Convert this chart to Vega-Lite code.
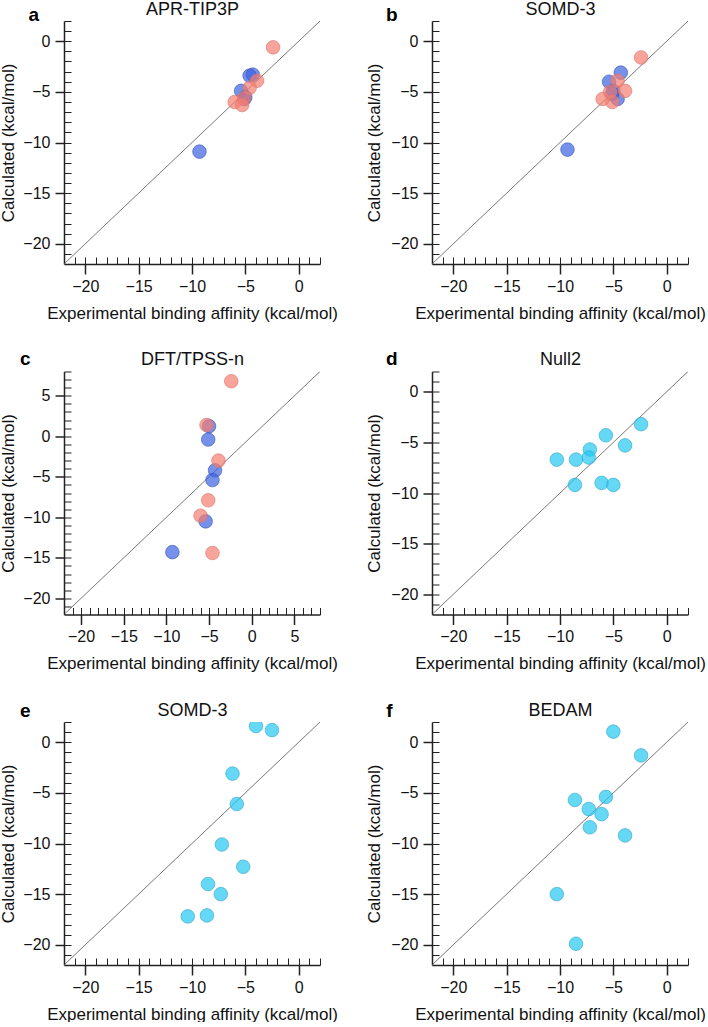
{
"$schema":"https://vega.github.io/schema/vega-lite/v6.json",
"padding":{"left":-1,"top":0,"right":0,"bottom":0},
"config":{"font":"Liberation Sans","view":{"stroke":null},
 "axis":{"grid":false,"domainColor":"#222222","tickColor":"#222222","labelColor":"#111111","titleColor":"#111111","labelFontSize":16,"titleFontSize":17,"titleFontWeight":"normal","labelFont":"Liberation Sans","titleFont":"Liberation Sans"}},
"datasets":{
 "diag":[{"x":-22,"y":-22},{"x":2,"y":2}],
 "diagc":[{"x":-22,"y":-22},{"x":8,"y":8}],
 "pts":[
  {"panel":"a","host":"H1","x":-9.3,"y":-10.9},{"panel":"a","host":"H1","x":-4.3,"y":-3.3},{"panel":"a","host":"H1","x":-4.6,"y":-3.4},{"panel":"a","host":"H1","x":-5.4,"y":-4.9},{"panel":"a","host":"H1","x":-5.0,"y":-5.5},{"panel":"a","host":"H1","x":-5.1,"y":-5.7},
  {"panel":"a","host":"H2","x":-2.4,"y":-0.6},{"panel":"a","host":"H2","x":-3.9,"y":-3.9},{"panel":"a","host":"H2","x":-4.6,"y":-4.6},{"panel":"a","host":"H2","x":-5.1,"y":-5.6},{"panel":"a","host":"H2","x":-6.0,"y":-6.0},{"panel":"a","host":"H2","x":-5.3,"y":-6.3},
  {"panel":"b","host":"H1","x":-9.3,"y":-10.7},{"panel":"b","host":"H1","x":-4.3,"y":-3.1},{"panel":"b","host":"H1","x":-5.4,"y":-4.0},{"panel":"b","host":"H1","x":-5.0,"y":-4.9},{"panel":"b","host":"H1","x":-4.6,"y":-5.7},{"panel":"b","host":"H1","x":-5.1,"y":-5.2},
  {"panel":"b","host":"H2","x":-2.4,"y":-1.6},{"panel":"b","host":"H2","x":-3.9,"y":-4.9},{"panel":"b","host":"H2","x":-4.6,"y":-3.9},{"panel":"b","host":"H2","x":-5.1,"y":-6.0},{"panel":"b","host":"H2","x":-6.0,"y":-5.7},{"panel":"b","host":"H2","x":-5.3,"y":-5.0},
  {"panel":"c","host":"H1","x":-5.0,"y":1.25},{"panel":"c","host":"H1","x":-5.1,"y":-0.4},{"panel":"c","host":"H1","x":-4.3,"y":-4.2},{"panel":"c","host":"H1","x":-4.6,"y":-5.4},{"panel":"c","host":"H1","x":-5.4,"y":-10.5},{"panel":"c","host":"H1","x":-9.3,"y":-14.3},
  {"panel":"c","host":"H2","x":-2.4,"y":6.8},{"panel":"c","host":"H2","x":-5.3,"y":1.4},{"panel":"c","host":"H2","x":-3.9,"y":-3.0},{"panel":"c","host":"H2","x":-5.1,"y":-7.9},{"panel":"c","host":"H2","x":-6.0,"y":-9.8},{"panel":"c","host":"H2","x":-4.6,"y":-14.4},
  {"panel":"d","host":"G","x":-2.4,"y":-3.2},{"panel":"d","host":"G","x":-5.7,"y":-4.3},{"panel":"d","host":"G","x":-3.9,"y":-5.3},{"panel":"d","host":"G","x":-7.2,"y":-5.7},{"panel":"d","host":"G","x":-7.3,"y":-6.5},{"panel":"d","host":"G","x":-8.5,"y":-6.7},{"panel":"d","host":"G","x":-10.3,"y":-6.7},{"panel":"d","host":"G","x":-8.6,"y":-9.2},{"panel":"d","host":"G","x":-6.1,"y":-9.0},{"panel":"d","host":"G","x":-5.0,"y":-9.2},
  {"panel":"e","host":"G","x":-4.0,"y":1.6},{"panel":"e","host":"G","x":-2.5,"y":1.2},{"panel":"e","host":"G","x":-6.2,"y":-3.1},{"panel":"e","host":"G","x":-5.8,"y":-6.1},{"panel":"e","host":"G","x":-7.2,"y":-10.1},{"panel":"e","host":"G","x":-5.2,"y":-12.3},{"panel":"e","host":"G","x":-8.5,"y":-14.0},{"panel":"e","host":"G","x":-7.3,"y":-15.0},{"panel":"e","host":"G","x":-10.4,"y":-17.2},{"panel":"e","host":"G","x":-8.6,"y":-17.1},
  {"panel":"f","host":"G","x":-5.0,"y":1.05},{"panel":"f","host":"G","x":-2.4,"y":-1.3},{"panel":"f","host":"G","x":-5.7,"y":-5.4},{"panel":"f","host":"G","x":-8.6,"y":-5.7},{"panel":"f","host":"G","x":-7.3,"y":-6.6},{"panel":"f","host":"G","x":-6.1,"y":-7.1},{"panel":"f","host":"G","x":-7.2,"y":-8.4},{"panel":"f","host":"G","x":-3.9,"y":-9.2},{"panel":"f","host":"G","x":-10.3,"y":-15.0},{"panel":"f","host":"G","x":-8.5,"y":-19.9}
 ]},
"columns":2,
"spacing":{"row":107.5,"column":112},
"bounds":"flush",
"concat":[
 {"width":256,"height":243,
  "layer":[
   {"data":{"name":"diag"},"mark":{"type":"line","color":"#555555","strokeWidth":0.8,"clip":true},
    "encoding":{
     "x":{"field":"x","type":"quantitative","scale":{"domain":[-22,2],"nice":false,"zero":false},"axis":{"orient":"bottom","values":[-21,-20,-19,-18,-17,-16,-15,-14,-13,-12,-11,-10,-9,-8,-7,-6,-5,-4,-3,-2,-1,0,1,2],"tickSize":-7,"tickWidth":1,"domain":false,"labels":false,"title":"APR-TIP3P","titleX":128,"titleY":-250,"titleAngle":0,"titleAlign":"center","titleBaseline":"alphabetic","titleFontSize":18}},
     "y":{"field":"y","type":"quantitative","scale":{"domain":[-22,2],"nice":false,"zero":false},"axis":{"orient":"left","values":[-21,-20,-19,-18,-17,-16,-15,-14,-13,-12,-11,-10,-9,-8,-7,-6,-5,-4,-3,-2,-1,0,1,2],"tickSize":-7,"tickWidth":1,"domain":false,"labels":false,"title":"a","titleX":-25.5,"titleY":-0.5,"titleAngle":0,"titleAlign":"right","titleBaseline":"alphabetic","titleFontSize":19,"titleFontWeight":"bold","titleColor":"#000000"}}}},
   {"data":{"name":"pts"},"transform":[{"filter":"datum.panel == 'a'"}],
    "mark":{"type":"circle","size":185,"opacity":1,"fillOpacity":0.7,"strokeOpacity":0.8,"strokeWidth":0.8,"clip":true},
    "encoding":{
     "x":{"field":"x","type":"quantitative","axis":{"orient":"bottom","values":[-20,-15,-10,-5,0],"tickSize":10,"tickWidth":1.5,"domainWidth":1.5,"labelPadding":4,"title":"Experimental binding affinity (kcal/mol)","titleX":128,"titleY":54,"titleAlign":"center","titleBaseline":"alphabetic"}},
     "y":{"field":"y","type":"quantitative","axis":{"orient":"left","values":[-20,-15,-10,-5,0],"tickSize":9,"tickWidth":1.5,"domainWidth":1.5,"labelPadding":5,"title":"Calculated (kcal/mol)","titleX":-51,"titleY":121.5,"titleAngle":270,"titleAlign":"center","titleBaseline":"alphabetic"}},
     "color":{"field":"host","type":"nominal","scale":{"domain":["H1","H2","G"],"range":["#3a62e0","#f57e70","#22c7ef"]},"legend":null},
     "stroke":{"field":"host","type":"nominal","scale":{"domain":["H1","H2","G"],"range":["#3a58b8","#d8786c","#35a8cc"]},"legend":null}}}
  ],
  "resolve":{"axis":{"x":"independent","y":"independent"}}},
 {"width":256,"height":243,
  "layer":[
   {"data":{"name":"diag"},"mark":{"type":"line","color":"#555555","strokeWidth":0.8,"clip":true},
    "encoding":{
     "x":{"field":"x","type":"quantitative","scale":{"domain":[-22,2],"nice":false,"zero":false},"axis":{"orient":"bottom","values":[-21,-20,-19,-18,-17,-16,-15,-14,-13,-12,-11,-10,-9,-8,-7,-6,-5,-4,-3,-2,-1,0,1,2],"tickSize":-7,"tickWidth":1,"domain":false,"labels":false,"title":"SOMD-3","titleX":128,"titleY":-250,"titleAngle":0,"titleAlign":"center","titleBaseline":"alphabetic","titleFontSize":18}},
     "y":{"field":"y","type":"quantitative","scale":{"domain":[-22,2],"nice":false,"zero":false},"axis":{"orient":"left","values":[-21,-20,-19,-18,-17,-16,-15,-14,-13,-12,-11,-10,-9,-8,-7,-6,-5,-4,-3,-2,-1,0,1,2],"tickSize":-7,"tickWidth":1,"domain":false,"labels":false,"title":"b","titleX":-35,"titleY":-0.5,"titleAngle":0,"titleAlign":"right","titleBaseline":"alphabetic","titleFontSize":19,"titleFontWeight":"bold","titleColor":"#000000"}}}},
   {"data":{"name":"pts"},"transform":[{"filter":"datum.panel == 'b'"}],
    "mark":{"type":"circle","size":185,"opacity":1,"fillOpacity":0.7,"strokeOpacity":0.8,"strokeWidth":0.8,"clip":true},
    "encoding":{
     "x":{"field":"x","type":"quantitative","axis":{"orient":"bottom","values":[-20,-15,-10,-5,0],"tickSize":10,"tickWidth":1.5,"domainWidth":1.5,"labelPadding":4,"title":"Experimental binding affinity (kcal/mol)","titleX":128,"titleY":54,"titleAlign":"center","titleBaseline":"alphabetic"}},
     "y":{"field":"y","type":"quantitative","axis":{"orient":"left","values":[-20,-15,-10,-5,0],"tickSize":9,"tickWidth":1.5,"domainWidth":1.5,"labelPadding":5,"title":"Calculated (kcal/mol)","titleX":-53,"titleY":121.5,"titleAngle":270,"titleAlign":"center","titleBaseline":"alphabetic"}},
     "color":{"field":"host","type":"nominal","scale":{"domain":["H1","H2","G"],"range":["#3a62e0","#f57e70","#22c7ef"]},"legend":null},
     "stroke":{"field":"host","type":"nominal","scale":{"domain":["H1","H2","G"],"range":["#3a58b8","#d8786c","#35a8cc"]},"legend":null}}}
  ],
  "resolve":{"axis":{"x":"independent","y":"independent"}}},
 {"width":256,"height":243,
  "layer":[
   {"data":{"name":"diagc"},"mark":{"type":"line","color":"#555555","strokeWidth":0.8,"clip":true},
    "encoding":{
     "x":{"field":"x","type":"quantitative","scale":{"domain":[-22,8],"nice":false,"zero":false},"axis":{"orient":"bottom","values":[-21,-20,-19,-18,-17,-16,-15,-14,-13,-12,-11,-10,-9,-8,-7,-6,-5,-4,-3,-2,-1,0,1,2,3,4,5,6,7,8],"tickSize":-7,"tickWidth":1,"domain":false,"labels":false,"title":"DFT/TPSS-n","titleX":128,"titleY":-250,"titleAngle":0,"titleAlign":"center","titleBaseline":"alphabetic","titleFontSize":18}},
     "y":{"field":"y","type":"quantitative","scale":{"domain":[-22,8],"nice":false,"zero":false},"axis":{"orient":"left","values":[-21,-20,-19,-18,-17,-16,-15,-14,-13,-12,-11,-10,-9,-8,-7,-6,-5,-4,-3,-2,-1,0,1,2,3,4,5,6,7,8],"tickSize":-7,"tickWidth":1,"domain":false,"labels":false,"title":"c","titleX":-34,"titleY":-7,"titleAngle":0,"titleAlign":"right","titleBaseline":"alphabetic","titleFontSize":19,"titleFontWeight":"bold","titleColor":"#000000"}}}},
   {"data":{"name":"pts"},"transform":[{"filter":"datum.panel == 'c'"}],
    "mark":{"type":"circle","size":185,"opacity":1,"fillOpacity":0.7,"strokeOpacity":0.8,"strokeWidth":0.8,"clip":true},
    "encoding":{
     "x":{"field":"x","type":"quantitative","axis":{"orient":"bottom","values":[-20,-15,-10,-5,0,5],"tickSize":10,"tickWidth":1.5,"domainWidth":1.5,"labelPadding":4,"title":"Experimental binding affinity (kcal/mol)","titleX":128,"titleY":54,"titleAlign":"center","titleBaseline":"alphabetic"}},
     "y":{"field":"y","type":"quantitative","axis":{"orient":"left","values":[-20,-15,-10,-5,0,5],"tickSize":9,"tickWidth":1.5,"domainWidth":1.5,"labelPadding":5,"title":"Calculated (kcal/mol)","titleX":-51,"titleY":121.5,"titleAngle":270,"titleAlign":"center","titleBaseline":"alphabetic"}},
     "color":{"field":"host","type":"nominal","scale":{"domain":["H1","H2","G"],"range":["#3a62e0","#f57e70","#22c7ef"]},"legend":null},
     "stroke":{"field":"host","type":"nominal","scale":{"domain":["H1","H2","G"],"range":["#3a58b8","#d8786c","#35a8cc"]},"legend":null}}}
  ],
  "resolve":{"axis":{"x":"independent","y":"independent"}}},
 {"width":256,"height":243,
  "layer":[
   {"data":{"name":"diag"},"mark":{"type":"line","color":"#555555","strokeWidth":0.8,"clip":true},
    "encoding":{
     "x":{"field":"x","type":"quantitative","scale":{"domain":[-22,2],"nice":false,"zero":false},"axis":{"orient":"bottom","values":[-21,-20,-19,-18,-17,-16,-15,-14,-13,-12,-11,-10,-9,-8,-7,-6,-5,-4,-3,-2,-1,0,1,2],"tickSize":-7,"tickWidth":1,"domain":false,"labels":false,"title":"Null2","titleX":128,"titleY":-250,"titleAngle":0,"titleAlign":"center","titleBaseline":"alphabetic","titleFontSize":18}},
     "y":{"field":"y","type":"quantitative","scale":{"domain":[-22,2],"nice":false,"zero":false},"axis":{"orient":"left","values":[-21,-20,-19,-18,-17,-16,-15,-14,-13,-12,-11,-10,-9,-8,-7,-6,-5,-4,-3,-2,-1,0,1,2],"tickSize":-7,"tickWidth":1,"domain":false,"labels":false,"title":"d","titleX":-35,"titleY":-7,"titleAngle":0,"titleAlign":"right","titleBaseline":"alphabetic","titleFontSize":19,"titleFontWeight":"bold","titleColor":"#000000"}}}},
   {"data":{"name":"pts"},"transform":[{"filter":"datum.panel == 'd'"}],
    "mark":{"type":"circle","size":185,"opacity":1,"fillOpacity":0.7,"strokeOpacity":0.8,"strokeWidth":0.8,"clip":true},
    "encoding":{
     "x":{"field":"x","type":"quantitative","axis":{"orient":"bottom","values":[-20,-15,-10,-5,0],"tickSize":10,"tickWidth":1.5,"domainWidth":1.5,"labelPadding":4,"title":"Experimental binding affinity (kcal/mol)","titleX":128,"titleY":54,"titleAlign":"center","titleBaseline":"alphabetic"}},
     "y":{"field":"y","type":"quantitative","axis":{"orient":"left","values":[-20,-15,-10,-5,0],"tickSize":9,"tickWidth":1.5,"domainWidth":1.5,"labelPadding":5,"title":"Calculated (kcal/mol)","titleX":-53,"titleY":121.5,"titleAngle":270,"titleAlign":"center","titleBaseline":"alphabetic"}},
     "color":{"field":"host","type":"nominal","scale":{"domain":["H1","H2","G"],"range":["#3a62e0","#f57e70","#22c7ef"]},"legend":null},
     "stroke":{"field":"host","type":"nominal","scale":{"domain":["H1","H2","G"],"range":["#3a58b8","#d8786c","#35a8cc"]},"legend":null}}}
  ],
  "resolve":{"axis":{"x":"independent","y":"independent"}}},
 {"width":256,"height":243,
  "layer":[
   {"data":{"name":"diag"},"mark":{"type":"line","color":"#555555","strokeWidth":0.8,"clip":true},
    "encoding":{
     "x":{"field":"x","type":"quantitative","scale":{"domain":[-22,2],"nice":false,"zero":false},"axis":{"orient":"bottom","values":[-21,-20,-19,-18,-17,-16,-15,-14,-13,-12,-11,-10,-9,-8,-7,-6,-5,-4,-3,-2,-1,0,1,2],"tickSize":-7,"tickWidth":1,"domain":false,"labels":false,"title":"SOMD-3","titleX":128,"titleY":-250,"titleAngle":0,"titleAlign":"center","titleBaseline":"alphabetic","titleFontSize":18}},
     "y":{"field":"y","type":"quantitative","scale":{"domain":[-22,2],"nice":false,"zero":false},"axis":{"orient":"left","values":[-21,-20,-19,-18,-17,-16,-15,-14,-13,-12,-11,-10,-9,-8,-7,-6,-5,-4,-3,-2,-1,0,1,2],"tickSize":-7,"tickWidth":1,"domain":false,"labels":false,"title":"e","titleX":-34,"titleY":-6,"titleAngle":0,"titleAlign":"right","titleBaseline":"alphabetic","titleFontSize":19,"titleFontWeight":"bold","titleColor":"#000000"}}}},
   {"data":{"name":"pts"},"transform":[{"filter":"datum.panel == 'e'"}],
    "mark":{"type":"circle","size":185,"opacity":1,"fillOpacity":0.7,"strokeOpacity":0.8,"strokeWidth":0.8,"clip":true},
    "encoding":{
     "x":{"field":"x","type":"quantitative","axis":{"orient":"bottom","values":[-20,-15,-10,-5,0],"tickSize":10,"tickWidth":1.5,"domainWidth":1.5,"labelPadding":4,"title":"Experimental binding affinity (kcal/mol)","titleX":128,"titleY":54,"titleAlign":"center","titleBaseline":"alphabetic"}},
     "y":{"field":"y","type":"quantitative","axis":{"orient":"left","values":[-20,-15,-10,-5,0],"tickSize":9,"tickWidth":1.5,"domainWidth":1.5,"labelPadding":5,"title":"Calculated (kcal/mol)","titleX":-51,"titleY":121.5,"titleAngle":270,"titleAlign":"center","titleBaseline":"alphabetic"}},
     "color":{"field":"host","type":"nominal","scale":{"domain":["H1","H2","G"],"range":["#3a62e0","#f57e70","#22c7ef"]},"legend":null},
     "stroke":{"field":"host","type":"nominal","scale":{"domain":["H1","H2","G"],"range":["#3a58b8","#d8786c","#35a8cc"]},"legend":null}}}
  ],
  "resolve":{"axis":{"x":"independent","y":"independent"}}},
 {"width":256,"height":243,
  "layer":[
   {"data":{"name":"diag"},"mark":{"type":"line","color":"#555555","strokeWidth":0.8,"clip":true},
    "encoding":{
     "x":{"field":"x","type":"quantitative","scale":{"domain":[-22,2],"nice":false,"zero":false},"axis":{"orient":"bottom","values":[-21,-20,-19,-18,-17,-16,-15,-14,-13,-12,-11,-10,-9,-8,-7,-6,-5,-4,-3,-2,-1,0,1,2],"tickSize":-7,"tickWidth":1,"domain":false,"labels":false,"title":"BEDAM","titleX":128,"titleY":-250,"titleAngle":0,"titleAlign":"center","titleBaseline":"alphabetic","titleFontSize":18}},
     "y":{"field":"y","type":"quantitative","scale":{"domain":[-22,2],"nice":false,"zero":false},"axis":{"orient":"left","values":[-21,-20,-19,-18,-17,-16,-15,-14,-13,-12,-11,-10,-9,-8,-7,-6,-5,-4,-3,-2,-1,0,1,2],"tickSize":-7,"tickWidth":1,"domain":false,"labels":false,"title":"f","titleX":-40,"titleY":-6,"titleAngle":0,"titleAlign":"right","titleBaseline":"alphabetic","titleFontSize":19,"titleFontWeight":"bold","titleColor":"#000000"}}}},
   {"data":{"name":"pts"},"transform":[{"filter":"datum.panel == 'f'"}],
    "mark":{"type":"circle","size":185,"opacity":1,"fillOpacity":0.7,"strokeOpacity":0.8,"strokeWidth":0.8,"clip":true},
    "encoding":{
     "x":{"field":"x","type":"quantitative","axis":{"orient":"bottom","values":[-20,-15,-10,-5,0],"tickSize":10,"tickWidth":1.5,"domainWidth":1.5,"labelPadding":4,"title":"Experimental binding affinity (kcal/mol)","titleX":128,"titleY":54,"titleAlign":"center","titleBaseline":"alphabetic"}},
     "y":{"field":"y","type":"quantitative","axis":{"orient":"left","values":[-20,-15,-10,-5,0],"tickSize":9,"tickWidth":1.5,"domainWidth":1.5,"labelPadding":5,"title":"Calculated (kcal/mol)","titleX":-53,"titleY":121.5,"titleAngle":270,"titleAlign":"center","titleBaseline":"alphabetic"}},
     "color":{"field":"host","type":"nominal","scale":{"domain":["H1","H2","G"],"range":["#3a62e0","#f57e70","#22c7ef"]},"legend":null},
     "stroke":{"field":"host","type":"nominal","scale":{"domain":["H1","H2","G"],"range":["#3a58b8","#d8786c","#35a8cc"]},"legend":null}}}
  ],
  "resolve":{"axis":{"x":"independent","y":"independent"}}}
]
}
